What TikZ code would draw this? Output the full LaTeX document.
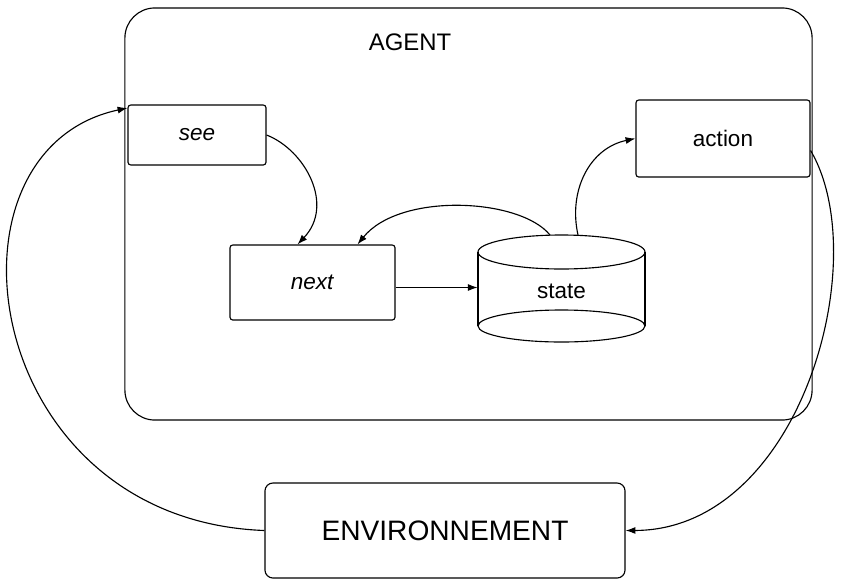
\documentclass[tikz,border=0pt]{standalone}
\usepackage{fontspec}
\setmainfont{Liberation Sans}
\usepackage{tikz}
\usetikzlibrary{positioning, arrows.meta, calc}

\begin{document}
\begin{tikzpicture}[
  x=0.025cm, y=-0.025cm,
  >={Latex[length=7pt,width=5pt]},
  every node/.style={font=\fontsize{16}{19}\selectfont},
  box/.style={draw, thick, rounded corners=2pt, align=center, inner sep=0pt},
  link/.style={->, line width=0.8pt}
]
\useasboundingbox (0,0) rectangle (848,580);

% Agent frame
\node[draw, thick, rounded corners=0.75cm, minimum width=17.175cm, minimum height=10.3cm] (agent) at (468.5,214) {};
\node[font=\fontsize{17}{20}\selectfont] (agentlabel) at (410,42) {AGENT};

% Inner boxes
\node[box, minimum width=3.45cm, minimum height=1.5cm] (see) at (197,135) {\textit{see}};
\node[box, minimum width=4.35cm, minimum height=1.925cm] (action) at (723,138.5) {action};
\node[box, minimum width=4.125cm, minimum height=1.875cm] (next) at (312.5,282.5) {\textit{next}};

% State store (cylinder)
\node[minimum width=4.175cm, minimum height=1.9cm, inner sep=0pt] (state) at (561.5,291) {state};
\draw[thick] (561.5,252) ellipse [x radius=83.5, y radius=17];
\draw[thick] (561.5,326) ellipse [x radius=83.5, y radius=16];
\draw[thick] (478,252) -- (478,326);
\draw[thick] (645,252) -- (645,326);
\coordinate (stateleft) at (550,235);
\coordinate (stateright) at (578,235);

% Environment
\node[box, rounded corners=0.2cm, minimum width=9cm, minimum height=2.375cm, font=\fontsize{20}{23}\selectfont] (env) at (445,530.5) {ENVIRONNEMENT};

% Connectors
\draw[link] (see.east) .. controls (305,150) and (335,205) .. ($(next.north)+(-15,0)$);
\draw[link] (stateleft) .. controls (520,198) and (400,192) .. ($(next.north)+(45,0)$);
\draw[link] (stateright) .. controls (568,190) and (590,148) .. (action.west);
\draw[link] ($(next.east)+(0,5)$) -- ($(next.east -| state.west)+(0,5)$);
\draw[link] ($(action.east)+(0,12)$) .. controls (875,260) and (800,530) .. (env.east);
\draw[link] (env.west) .. controls (-20,520) and (-70,150) .. ($(see.west)+(0,-27)$);

\end{tikzpicture}
\end{document}
